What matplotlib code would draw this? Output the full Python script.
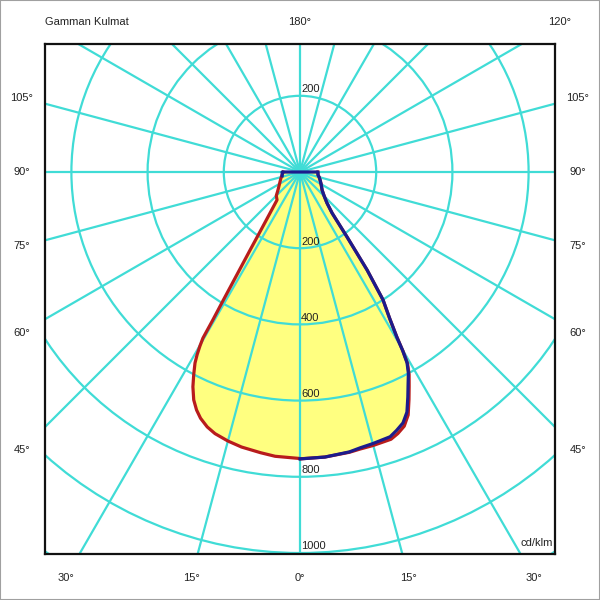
import numpy as np
import matplotlib
matplotlib.use('Agg')
import matplotlib.pyplot as plt
from matplotlib.patches import Circle, Rectangle

plt.rcParams['font.family'] = ['Liberation Sans', 'DejaVu Sans']

# Luminous intensity (cd/klm), gamma in degrees from nadir
red_left_gamma = [0, 5, 8, 12, 15, 18, 20, 22, 23.5, 25, 26.5, 27.7, 28.8, 29.4, 29.9, 30.3,
                  30.5, 30.9, 31.4, 32.6, 33.7, 35.8, 39.4, 45, 50, 60, 70, 80, 87, 90]
red_left_cd = [752, 749, 744, 738, 731, 722, 712, 697, 681, 660, 630, 600, 572, 550, 527, 505,
               451, 392, 332, 243, 192, 139, 95, 88, 76, 62, 54, 48, 45, 44]

blue_right_gamma = [0, 5, 10, 12.3, 15, 18.8, 20.5, 22.3, 24, 25.6, 27, 28.3, 29.3, 29.9,
                    30.4, 31.5, 33, 34.4, 35.9, 38, 41, 45, 50.7, 60, 68, 75, 80.5, 90]
blue_right_cd = [753, 751, 746, 741, 738, 734, 724, 712, 690, 655, 625, 600, 574, 540,
                 502, 450, 400, 312, 211, 137, 108, 90, 75, 64, 57, 52, 48, 47]
# red plane on the right side sits just outside the blue one
red_right_cd = [753, 751, 747, 744, 743, 741, 733, 721, 698, 662, 631, 604, 577, 542,
                503, 450, 400, 312, 211, 137, 108, 90, 75, 64, 57, 52, 48, 47]

# blue cap over the top-left
blue_left_gamma = [90, 84, 78]
blue_left_cd = [47, 47, 48]

rings = [200, 400, 600, 800, 1000, 1200]
ring_labels = ['200', '200', '400', '600', '800', '1000']
ring_label_pos = [200, -200, -400, -600, -800, -1000]

# angle labels: (gamma, side) side -1 = left, +1 = right, 0 = centre
angle_labels = [(0, 0), (15, -1), (30, -1), (15, 1), (30, 1),
                (45, -1), (60, -1), (75, -1), (90, -1), (105, -1),
                (45, 1), (60, 1), (75, 1), (90, 1), (105, 1), (120, 1), (180, 0)]

scale = 0.381  # px per cd/klm
cx, cy = 300, 172
grid_col = '#40DCD6'
yellow = '#FFFF80'
red = '#B81C1C'
blue = '#1C1C8C'


def to_xy(gamma, cd, side):
    g = np.radians(np.asarray(gamma, dtype=float))
    cd = np.asarray(cd, dtype=float)
    return side * cd * np.sin(g), -cd * np.cos(g)


fig = plt.figure(figsize=(6, 6), dpi=100)
ax = fig.add_axes([45 / 600, 46 / 600, 510 / 600, 510 / 600])
ax.set_xlim(-255 / scale, 255 / scale)
ax.set_ylim(-(554 - cy) / scale, (cy - 44) / scale)
ax.set_xticks([])
ax.set_yticks([])
for s in ax.spines.values():
    s.set_linewidth(1.6)
    s.set_color('#111111')

# fill
lx, ly = to_xy(red_left_gamma, red_left_cd, -1)
rx, ry = to_xy(blue_right_gamma, red_right_cd, 1)
ax.fill(np.concatenate([lx[::-1], rx]), np.concatenate([ly[::-1], ry]),
        color=yellow, zorder=1, lw=0)

# grid
for r in rings:
    ax.add_patch(Circle((0, 0), r, fill=False, edgecolor=grid_col, lw=1.6, zorder=2))
for a in range(0, 360, 15):
    t = np.radians(a)
    ax.plot([0, 1400 * np.cos(t)], [0, 1400 * np.sin(t)], color=grid_col, lw=1.6, zorder=2)

# curves
ax.plot(np.concatenate([lx[::-1], rx]), np.concatenate([ly[::-1], ry]),
        color=red, lw=2.3, zorder=3, solid_joinstyle='round')
bx1, by1 = to_xy(blue_left_gamma, blue_left_cd, -1)
bx2, by2 = to_xy(blue_right_gamma, blue_right_cd, 1)
ax.plot(np.concatenate([bx1[::-1], bx2[::-1]]), np.concatenate([by1[::-1], by2[::-1]]),
        color=blue, lw=2.3, zorder=4, solid_joinstyle='round')

for lab, yv in zip(ring_labels, ring_label_pos):
    ax.text(3, yv + 4, lab, ha='left', va='bottom', fontsize=8, color='#222222', zorder=5)

ax.text(0.996, 0.012, 'cd/klm', transform=ax.transAxes, ha='right', va='bottom',
        fontsize=8, color='#222222')

# angle labels projected onto the outer label frame
x0, x1, y0, y1 = 22, 578, 22, 578
for g, side in angle_labels:
    t = np.radians(g)
    dx = (side if side else 1) * np.sin(t)
    dy = np.cos(t)
    cands = []
    if dx > 1e-9:
        cands.append((x1 - cx) / dx)
    if dx < -1e-9:
        cands.append((x0 - cx) / dx)
    if dy > 1e-9:
        cands.append((y1 - cy) / dy)
    if dy < -1e-9:
        cands.append((y0 - cy) / dy)
    k = min(cands)
    px, py = cx + k * dx, cy + k * dy
    fig.text(px / 600, 1 - py / 600, f'{g}°', ha='center', va='center',
             fontsize=8, color='#222222')

fig.text(45 / 600, 1 - 22 / 600, 'Gamman Kulmat', ha='left', va='center',
         fontsize=8, color='#222222')

fig.patches.append(Rectangle((0, 0), 1, 1, transform=fig.transFigure, fill=False,
                             edgecolor='#a0a0a0', lw=1.5))

fig.savefig('out.png', dpi=100)
